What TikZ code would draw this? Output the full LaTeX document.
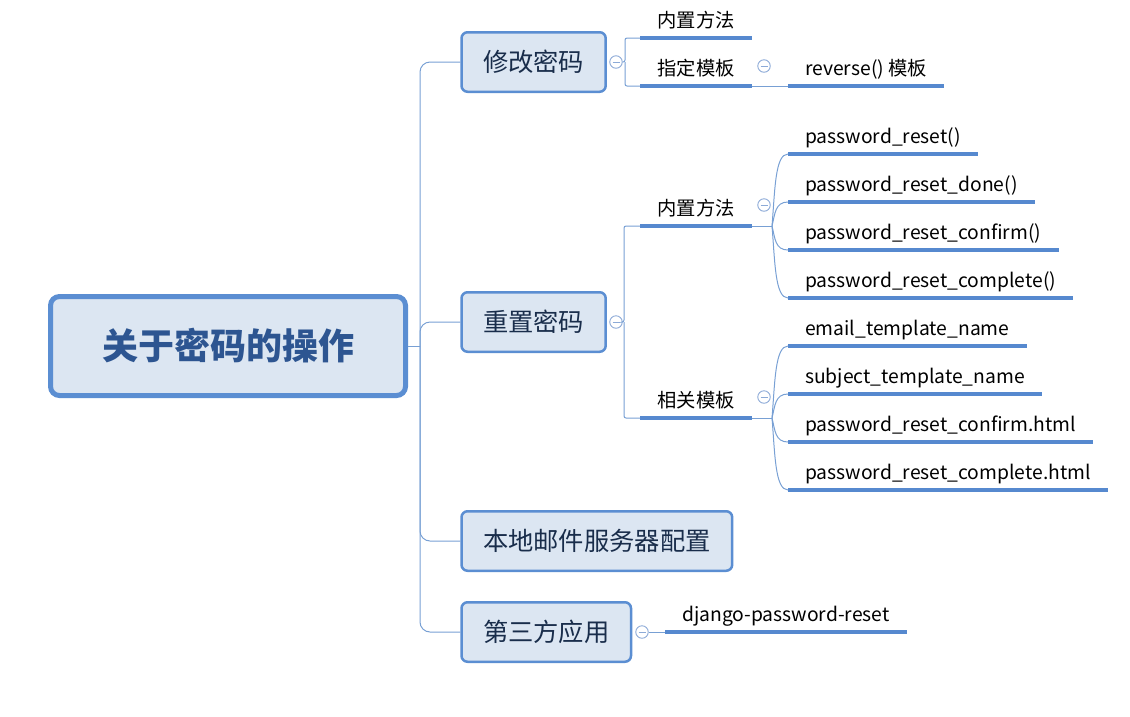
\documentclass[tikz,border=0pt]{standalone}
\usepackage{fontspec}
\setmainfont{Noto Sans CJK SC}
\usetikzlibrary{calc}
\definecolor{boxfill}{RGB}{220,230,242}
\definecolor{boxline}{RGB}{91,142,210}
\definecolor{lnblue}{RGB}{86,137,207}
\definecolor{thinblue}{RGB}{120,160,212}
\definecolor{foldblue}{RGB}{140,170,215}
\definecolor{roottext}{RGB}{45,85,145}
\definecolor{subtext}{RGB}{25,45,75}
\tikzset{
  rootbox/.style={draw=boxline,fill=boxfill,line width=5pt,rounded corners=9pt,minimum width=355pt,minimum height=99pt,font=\fontsize{36}{40}\selectfont\bfseries,text=roottext},
  topic/.style={draw=boxline,fill=boxfill,line width=2.5pt,rounded corners=6pt,minimum height=59.5pt,inner xsep=21.5pt,font=\fontsize{25.3}{30}\selectfont,text=subtext,anchor=west},
  leaf/.style={anchor=south west,inner xsep=17pt,inner ysep=5pt,text height=14pt,text depth=5pt,font=\fontsize{19.3}{23}\selectfont},
  sub/.style={leaf,minimum width=112pt,inner xsep=0pt},
  uline/.style={draw=lnblue,line width=4pt},
  conn/.style={draw=thinblue,line width=1pt},
  fold/.style={circle,draw=foldblue,fill=white,line width=0.9pt,minimum size=12.5pt,inner sep=0pt,
    path picture={\draw[foldblue,line width=0.9pt]([xshift=-3.5pt]path picture bounding box.center)--([xshift=3.5pt]path picture bounding box.center);}}
}
\begin{document}
\begin{tikzpicture}[x=1pt,y=-1pt]
  \useasboundingbox (0,0) rectangle (1130,716);
  \node[rootbox] (root) at (228,346) {关于密码的操作};
  \node[topic] (xgmm) at (460.25,62) {修改密码};
  \node[topic] (czmm) at (460.25,322) {重置密码};
  \node[topic] (bdyj) at (460.25,541) {本地邮件服务器配置};
  \node[topic] (dsfyy) at (460.25,632) {第三方应用};
  \node[fold] (f1) at (616,62) {};
  \node[fold] (f2) at (616,322) {};
  \node[fold] (f3) at (642,632) {};
  \node[fold] (f4) at (764,66) {};
  \node[fold] (f5) at (764,205) {};
  \node[fold] (f6) at (764,397) {};
  \node[sub] (nzff1) at (640,38) {内置方法};
  \node[sub] (zdmb) at (640,86) {指定模板};
  \node[leaf] (rev) at (788,86) {reverse() 模板};
  \node[sub] (nzff2) at (640,226) {内置方法};
  \node[sub] (xgmb) at (640,418) {相关模板};
  \foreach \t [count=\i] in {password\_reset(),password\_reset\_done(),password\_reset\_confirm(),password\_reset\_complete()}
    \node[leaf] (ff\i) at (788,106+48*\i) {\t};
  \foreach \t [count=\i] in {email\_template\_name,subject\_template\_name,password\_reset\_confirm.html,password\_reset\_complete.html}
    \node[leaf] (mb\i) at (788,298+48*\i) {\t};
  \node[leaf] (djpr) at (665,632) {django-password-reset};
  \foreach \n in {nzff1,zdmb,rev,nzff2,xgmb,ff1,ff2,ff3,ff4,mb1,mb2,mb3,mb4,djpr}
    \draw[uline] (\n.south west) -- (\n.south east);
  \coordinate (tr) at (420,346);
  \draw[conn] (root.east) -- (tr);
  \foreach \n in {xgmm,czmm,bdyj,dsfyy}
    \draw[conn,rounded corners=10pt] (tr) |- (\n.west);
  \coordinate (j1) at (625,62);
  \draw[conn,rounded corners=2pt] (f1.east) -- (j1) |- (nzff1.south west);
  \draw[conn,rounded corners=2pt] (j1) |- (zdmb.south west);
  \draw[conn] (zdmb.south east) -- (rev.south west);
  \coordinate (j2) at (624,322);
  \draw[conn,rounded corners=2pt] (f2.east) -- (j2) |- (nzff2.south west);
  \draw[conn,rounded corners=2pt] (j2) |- (xgmb.south west);
  \coordinate (k1) at (772,226);
  \coordinate (k2) at (772,418);
  \draw[conn] (nzff2.south east) -- (k1);
  \draw[conn] (xgmb.south east) -- (k2);
  \foreach \i in {1,...,4}{
    \draw[conn] (k1) .. controls ($(k1)!.5!(k1|-ff\i.south west)+(3,0)$) and ($(k1|-ff\i.south west)+(3,0)$) .. (ff\i.south west);
    \draw[conn] (k2) .. controls ($(k2)!.5!(k2|-mb\i.south west)+(3,0)$) and ($(k2|-mb\i.south west)+(3,0)$) .. (mb\i.south west);
  }
  \draw[conn] (f3.east) -- (djpr.south west);
\end{tikzpicture}
\end{document}
